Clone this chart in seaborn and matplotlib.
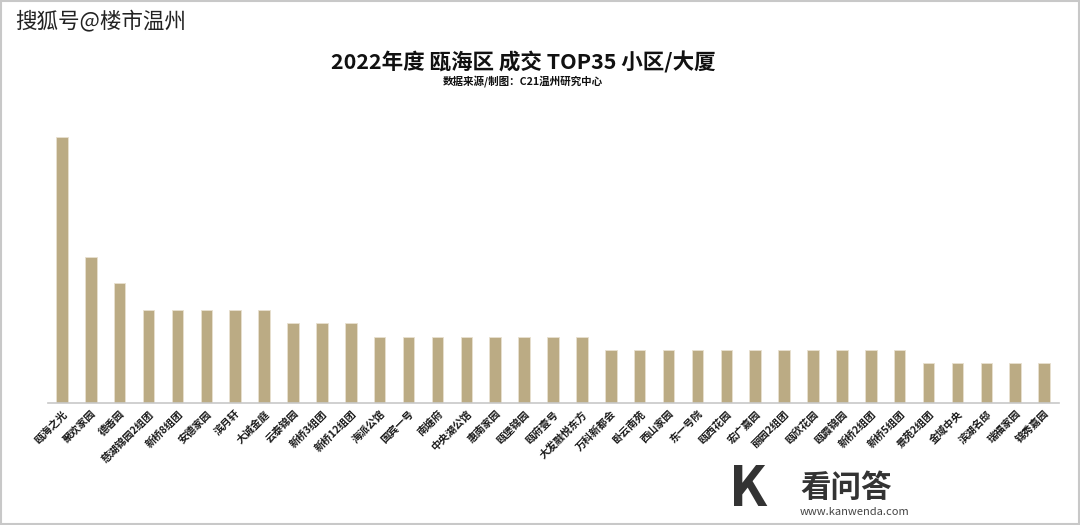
import matplotlib
matplotlib.use("Agg")
import matplotlib.pyplot as plt
import seaborn as sns
import pandas as pd
from matplotlib.patches import Rectangle

names = ["瓯海之光", "聚欢家园", "德香园", "慈湖锦园2组团", "新桥8组团", "安德家园", "滨月轩",
         "大诚金庭", "云泰锦园", "新桥3组团", "新桥12组团", "海派公馆", "国宾一号", "南塘府",
         "中央湖公馆", "惠南家园", "瓯堡锦园", "瓯府壹号", "大发融悦东方", "万科新都会", "卧云南苑",
         "西山家园", "东一号院", "瓯西花园", "宏广嘉园", "丽园2组团", "瓯欣花园", "瓯霞锦园",
         "新桥2组团", "新桥5组团", "景苑2组团", "金域中央", "滨湖名邸", "瑞福家园", "锦秀嘉园"]
values = [20, 11, 9, 7, 7, 7, 7, 7, 6, 6, 6, 5, 5, 5, 5, 5, 5, 5, 5,
          4, 4, 4, 4, 4, 4, 4, 4, 4, 4, 4, 3, 3, 3, 3, 3]

df = pd.DataFrame({"name": names, "value": values})

sns.set_theme(style="white")
plt.rcParams['font.family'] = ['Noto Sans CJK SC', 'DejaVu Sans']

fig = plt.figure(figsize=(10.8, 5.25), dpi=100)
ax = fig.add_axes([47.5 / 1080, 122 / 525, 1011 / 1080, 292.6 / 525])

sns.barplot(data=df, x="name", y="value", color="#BBAB84", saturation=1,
            width=0.4, ax=ax, edgecolor="#E8E1D0", linewidth=0.6)

ax.set_xlim(-0.5, len(names) - 0.5)
ax.set_ylim(0, 22)
ax.set_xlabel("")
ax.set_ylabel("")
ax.set_yticks([])
for s in ["top", "right", "left"]:
    ax.spines[s].set_visible(False)
ax.spines["bottom"].set_color("#C8C8C8")
ax.spines["bottom"].set_linewidth(1.2)
ax.tick_params(axis="x", length=0, pad=4)
ax.set_xticks(range(len(names)))
ax.set_xticklabels(names, rotation=45, ha="right", rotation_mode="anchor",
                   fontsize=7.5, fontweight="bold", color="#1A1A1A")

fig.text(523 / 1080, 1 - 62 / 525, "2022年度 瓯海区 成交 TOP35 小区/大厦",
         ha="center", va="center", fontsize=15.5, fontweight="bold", color="#111111")
fig.text(523 / 1080, 1 - 81 / 525, "数据来源/制图：C21温州研究中心",
         ha="center", va="center", fontsize=7.6, fontweight="bold", color="#111111")

fig.text(15 / 1080, 1 - 21 / 525, "搜狐号@楼市温州", ha="left", va="center",
         fontsize=15.5, color="#222222")

# watermark at bottom right
fig.text(800 / 1080, 1 - 488 / 525, "看问答", ha="left", va="center",
         fontsize=22, fontweight="bold", color="#333333")
fig.text(800 / 1080, 1 - 512 / 525, "www.kanwenda.com", ha="left", va="center",
         fontsize=8, color="#444444")
fig.text(748 / 1080, 1 - 490 / 525, "K", ha="center", va="center",
         fontsize=40, fontweight="bold", color="#333333")

fig.patches.append(Rectangle((0.001, 0.001), 0.998, 0.998, transform=fig.transFigure,
                             fill=False, edgecolor="#C8C8C8", linewidth=1.5))

fig.savefig("out.png", dpi=100, facecolor="white")
